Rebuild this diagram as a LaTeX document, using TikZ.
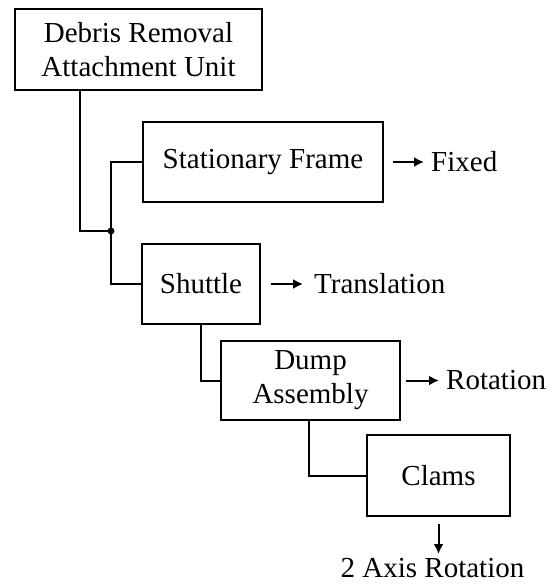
\documentclass[tikz,border=0pt]{standalone}
\usepackage{fontspec}
\setmainfont{Liberation Serif}
\usetikzlibrary{positioning,arrows.meta}
\tikzset{
  unit/.style={draw,line width=2pt,inner sep=0pt,minimum height=80pt,align=center,font=\fontsize{29}{34}\selectfont},
  motion/.style={inner sep=0pt,font=\fontsize{29}{34}\selectfont},
  link/.style={line width=2pt},
  arr/.style={line width=2pt,-{Latex[length=10pt,width=10pt]}}
}
\begin{document}
\begin{tikzpicture}[x=1pt,y=-1pt]
\useasboundingbox (0,0) rectangle (552,584);
%\draw[step=50,gray,very thin] (0,0) grid (552,584); %background grid
\node[unit,minimum width=247pt,minimum height=81pt] (drau) at (138.5,49.5) {Debris Removal\\Attachment Unit};
\node[unit,minimum width=240pt] (frame) at (263,162) {Stationary Frame};
\node[unit,minimum width=118pt] (shuttle) at (201,284) {Shuttle};
\node[unit,minimum width=179pt,minimum height=79pt] (dump) at (310.5,380.5) {Dump\\Assembly};
\node[unit,minimum width=143pt,minimum height=81pt] (clams) at (438.5,475.5) {Clams};
% motions
\node[motion,right=47pt of frame] (fixed) {Fixed};
\node[motion,right=53pt of shuttle] (transl) {Translation};
\node[motion,right=45pt of dump] (rot) {Rotation};
\node[motion,below=41pt of clams,xshift=-6pt] (axisrot) {2 Axis Rotation};
% tree
\coordinate (junct) at (111,231);
\draw[link] ([xshift=66pt]drau.south west) |- (junct);
\draw[link] (frame.west) -| (junct) |- (shuttle.west);
\fill (junct) circle (3.5pt);
\draw[link] ([xshift=60pt]shuttle.south west) |- (dump.west);
\draw[link] ([xshift=89pt]dump.south west) |- (clams.west);
% arrows
\draw[arr] ([xshift=9pt]frame.east) -- ([xshift=-7pt]fixed.west);
\draw[arr] ([xshift=10pt]shuttle.east) -- ([xshift=-11pt]transl.west);
\draw[arr] ([xshift=5pt]dump.east) -- ([xshift=-7pt]rot.west);
\draw[arr] ([yshift=-7pt]clams.south) -- ([yshift=4pt]clams.south |- axisrot.north);
\end{tikzpicture}
\end{document}
